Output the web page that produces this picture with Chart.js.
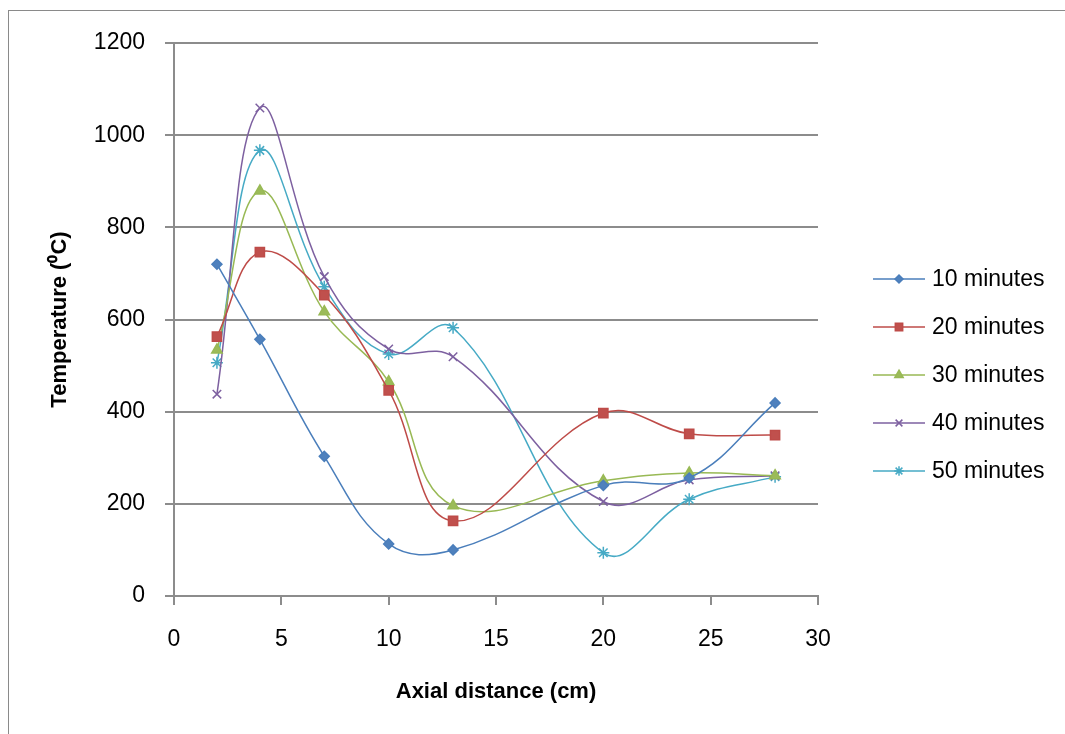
<!DOCTYPE html>
<html>
<head>
<meta charset="utf-8">
<title>Temperature vs axial distance</title>
<script src="https://cdn.jsdelivr.net/npm/chart.js"></script>
<style>
  html, body { margin: 0; padding: 0; background: #fff; }
  canvas { display: block; }
</style>
</head>
<body>
<canvas id="tempChart" width="1065" height="734"></canvas>
<script>
// data
const distances = [2, 4, 7, 10, 13, 20, 24, 28];
const seriesNames = ['10 minutes', '20 minutes', '30 minutes', '40 minutes', '50 minutes'];
const temp10 = [720, 557, 303, 113, 100, 240, 256, 419];
const temp20 = [563, 746, 653, 446, 163, 397, 352, 349];
const temp30 = [534, 879, 617, 465, 196, 250, 267, 261];
const temp40 = [438, 1059, 693, 536, 519, 205, 252, 261];
const temp50 = [506, 967, 671, 525, 582, 94, 210, 259];
const xTicks = [0, 5, 10, 15, 20, 25, 30];
const yTicks = [0, 200, 400, 600, 800, 1000, 1200];

const FONT = "'Liberation Sans', Arial, sans-serif";
const GRID = '#8c8c8c';

// style for each series (Excel 2007 palette)
const styles = [
    { color: '#4a7ebb', fill: '#4f81bd', point: 'rectRot', radius: 5 },
    { color: '#be4b48', fill: '#c0504d', point: 'rect', radius: 6.5 },
    { color: '#98b954', fill: '#9bbb59', point: 'triangle', radius: 6 },
    { color: '#7d60a0', fill: '#8064a2', point: 'crossRot', radius: 6 },
    { color: '#46aac5', fill: '#4bacc6', point: 'star', radius: 6 }
];
const allSeries = [temp10, temp20, temp30, temp40, temp50];

const datasets = allSeries.map((values, i) => ({
    label: seriesNames[i],
    data: distances.map((x, j) => ({ x: x, y: values[j] })),
    borderColor: styles[i].color,
    backgroundColor: styles[i].fill,
    borderWidth: 1.5,
    tension: 0.4,
    fill: false,
    pointStyle: styles[i].point,
    pointRadius: styles[i].radius,
    pointBackgroundColor: styles[i].fill,
    pointBorderColor: styles[i].color,
    pointBorderWidth: 1.5
}));

// white background + thin frame like the original sheet
const framePlugin = {
    id: 'frame',
    beforeDraw(chart) {
        const ctx = chart.ctx;
        ctx.save();
        ctx.fillStyle = '#fff';
        ctx.fillRect(0, 0, chart.width, chart.height);
        ctx.strokeStyle = '#8a8a8a';
        ctx.lineWidth = 1;
        ctx.strokeRect(8.5, 10.5, chart.width + 20, chart.height + 20);
        ctx.restore();
    }
};

// legend on the right: short line with the marker in the middle
const legendPlugin = {
    id: 'sideLegend',
    afterDraw(chart) {
        const ctx = chart.ctx;
        const x0 = 873, x1 = 925, textX = 932;
        ctx.save();
        chart.data.datasets.forEach((ds, i) => {
            const y = 279 + i * 48;
            ctx.strokeStyle = ds.borderColor;
            ctx.lineWidth = 1.5;
            ctx.beginPath();
            ctx.moveTo(x0, y);
            ctx.lineTo(x1, y);
            ctx.stroke();
            ctx.fillStyle = ds.pointBackgroundColor;
            ctx.strokeStyle = ds.pointBorderColor;
            ctx.lineWidth = 1.5;
            if (Chart.helpers && Chart.helpers.drawPoint) {
                Chart.helpers.drawPoint(ctx, {
                    pointStyle: ds.pointStyle,
                    radius: ds.pointRadius * 0.8,
                    rotation: 0,
                    borderWidth: 1.5
                }, (x0 + x1) / 2, y);
            }
            ctx.fillStyle = '#000';
            ctx.font = '23px ' + FONT;
            ctx.textAlign = 'left';
            ctx.textBaseline = 'middle';
            ctx.fillText(ds.label, textX, y + 1);
        });
        ctx.restore();
    }
};

const ctx = document.getElementById('tempChart').getContext('2d');
const tempChart = new Chart(ctx, {
    type: 'line',
    data: { datasets: datasets },
    plugins: [framePlugin, legendPlugin],
    options: {
        responsive: false,
        animation: false,
        layout: { padding: { left: 8, top: 43, right: 247, bottom: 0 } },
        plugins: {
            legend: { display: false },
            tooltip: { enabled: false }
        },
        scales: {
            x: {
                type: 'linear',
                min: 0,
                max: 30,
                afterBuildTicks: s => { s.ticks = xTicks.map(v => ({ value: v })); },
                afterFit: s => { s.height = 138; },
                grid: { drawOnChartArea: false, color: GRID, lineWidth: 2, tickLength: 9 },
                border: { color: GRID, width: 2 },
                ticks: {
                    color: '#000', font: { family: FONT, size: 23 }, padding: 21, maxRotation: 0,
                    callback: v => String(v)
                },
                title: {
                    display: true,
                    text: 'Axial distance (cm)',
                    color: '#000',
                    font: { family: FONT, size: 22, weight: 'bold' },
                    padding: { top: 0, bottom: 29 }
                }
            },
            y: {
                min: 0,
                max: 1200,
                afterBuildTicks: s => { s.ticks = yTicks.map(v => ({ value: v })); },
                afterFit: s => { s.width = 166; },
                grid: { color: GRID, lineWidth: 2, tickLength: 9 },
                border: { color: GRID, width: 2 },
                ticks: {
                    color: '#000', font: { family: FONT, size: 23 }, padding: 20,
                    callback: v => String(v)
                },
                title: {
                    display: true,
                    text: 'Temperature (⁰C)',
                    color: '#000',
                    font: { family: FONT, size: 22, weight: 'bold' },
                    padding: { top: 39, bottom: 0 }
                }
            }
        }
    }
});
</script>
</body>
</html>
